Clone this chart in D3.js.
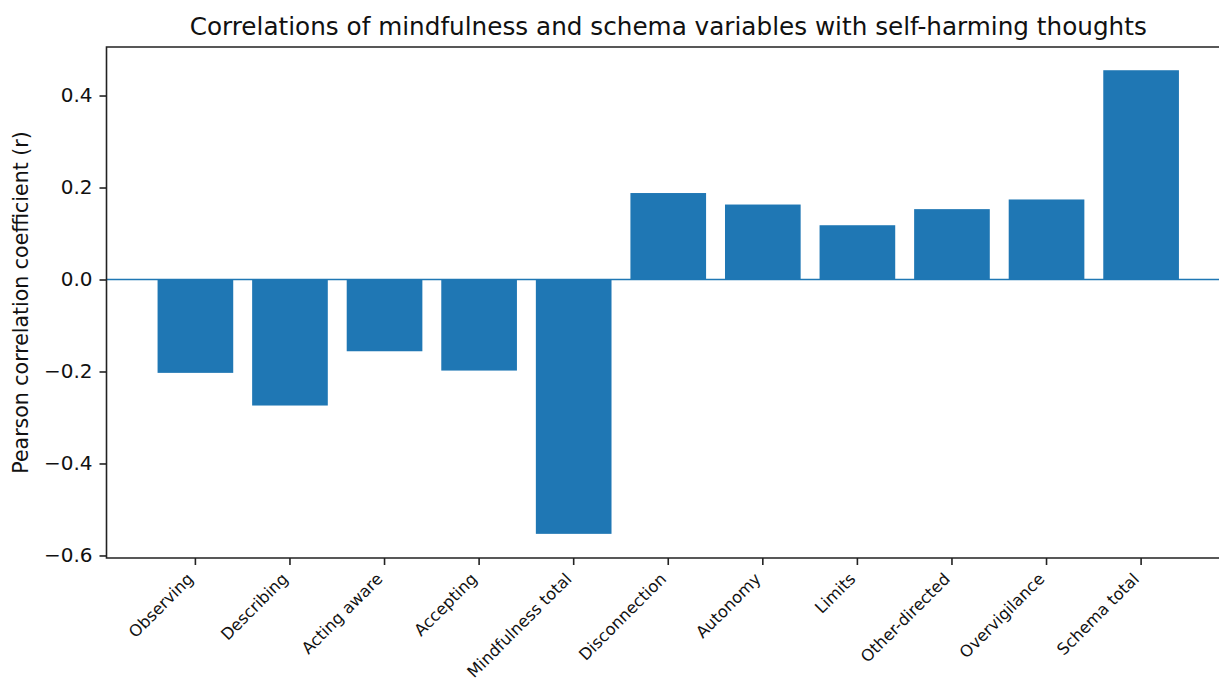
<!DOCTYPE html>
<html>
<head>
<meta charset="utf-8">
<script src="https://cdn.jsdelivr.net/npm/d3@7"></script>
<style>
	body { margin: 0; background: #fff; }
	svg { display: block; font-family: "DejaVu Sans", sans-serif; }
</style>
</head>
<body>
<script>
var categories = ["Observing", "Describing", "Acting aware", "Accepting", "Mindfulness total",
	"Disconnection", "Autonomy", "Limits", "Other-directed", "Overvigilance", "Schema total"];
var correlations = [-0.203, -0.274, -0.156, -0.198, -0.553, 0.188, 0.163, 0.118, 0.153, 0.174, 0.455];
var yTicks = [-0.6, -0.4, -0.2, 0.0, 0.2, 0.4];
var yDomain = [-0.6055, 0.5055];
var titleText = "Correlations of mindfulness and schema variables with self-harming thoughts";
var yLabelText = "Pearson correlation coefficient (r)";

function init(){
	var w = 1219;
	var h = 680;
	var left = 106.5;
	var right = 1230;
	var top = 47;
	var bottom = 558;
	var barColor = "#1f77b4";

	var svg = d3.select("body")
		.append("svg")
		.attr("width", w)
		.attr("height", h);

	var xScale = d3.scaleBand()
		.domain(categories)
		.range([left, right])
		.paddingInner(0.2)
		.paddingOuter(0.54);

	var yScale = d3.scaleLinear()
		.domain(yDomain)
		.range([bottom, top]);

	// bars
	svg.append("g")
		.selectAll("rect")
		.data(correlations)
		.enter()
		.append("rect")
		.attr("x", function(d, i){ return xScale(categories[i]); })
		.attr("y", function(d){ return yScale(Math.max(0, d)); })
		.attr("width", xScale.bandwidth())
		.attr("height", function(d){ return Math.abs(yScale(d) - yScale(0)); })
		.attr("fill", barColor);

	// zero line
	svg.append("line")
		.attr("x1", left)
		.attr("x2", right)
		.attr("y1", yScale(0))
		.attr("y2", yScale(0))
		.attr("stroke", barColor)
		.attr("stroke-width", 1.6);

	// y axis
	var yAxis = d3.axisLeft(yScale)
		.tickValues(yTicks)
		.tickFormat(d3.format(".1f"))
		.tickSize(7)
		.tickPadding(7);

	var gy = svg.append("g")
		.attr("transform", "translate(" + left + ",0)")
		.call(yAxis);
	gy.select(".domain").remove();
	gy.selectAll(".tick line").attr("stroke", "#222").attr("stroke-width", 1.6);
	gy.selectAll("text")
		.attr("fill", "#111")
		.style("font-size", "20px")
		.style("font-family", "DejaVu Sans");

	// x axis
	var xAxis = d3.axisBottom(xScale)
		.tickSize(7)
		.tickFormat("");

	var gx = svg.append("g")
		.attr("transform", "translate(0," + bottom + ")")
		.call(xAxis);
	gx.select(".domain").remove();
	gx.selectAll(".tick line").attr("stroke", "#222").attr("stroke-width", 1.6);

	svg.append("g")
		.selectAll("text")
		.data(categories)
		.enter()
		.append("text")
		.attr("transform", function(d){
			var x = xScale(d) + xScale.bandwidth() / 2 - 1;
			return "translate(" + x + "," + (bottom + 22) + ") rotate(-45)";
		})
		.attr("text-anchor", "end")
		.attr("fill", "#111")
		.style("font-size", "16.3px")
		.text(function(d){ return d; });

	// spines: left, bottom, top
	svg.append("path")
		.attr("d", "M" + right + "," + top + "H" + left + "V" + bottom + "H" + right)
		.attr("fill", "none")
		.attr("stroke", "#222")
		.attr("stroke-width", 1.6);

	svg.append("text")
		.attr("x", (left + right) / 2)
		.attr("y", 35)
		.attr("text-anchor", "middle")
		.attr("fill", "#111")
		.style("font-size", "24.7px")
		.text(titleText);

	svg.append("text")
		.attr("transform", "translate(28," + ((top + bottom) / 2) + ") rotate(-90)")
		.attr("text-anchor", "middle")
		.attr("fill", "#111")
		.style("font-size", "20.5px")
		.text(yLabelText);
}

window.onload = init;
</script>
</body>
</html>
